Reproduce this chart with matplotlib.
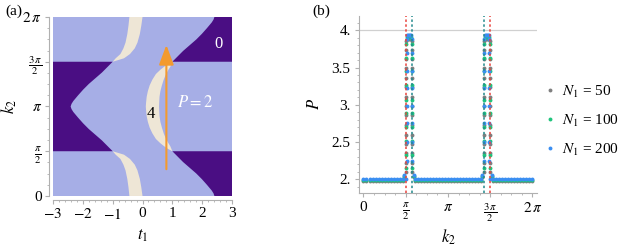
import numpy as np
import matplotlib.pyplot as plt
from matplotlib.ticker import MultipleLocator

plt.rcParams['font.family'] = ['Liberation Serif', 'DejaVu Serif']
plt.rcParams['mathtext.fontset'] = 'stix'
plt.rcParams['font.size'] = 10

PI = np.pi

# ---------------- panel (a): phase boundaries ----------------
# left dark (P = 0) boundary, lower half k2 in [pi/2, pi]; mirrored about k2 = pi
dark_k2 = [1.571, 1.75, 1.95, 2.15, 2.35, 2.55, 2.75, 2.95, 3.05, 3.1416]
dark_t1 = [-1.00, -1.17, -1.36, -1.58, -1.80, -1.99, -2.16, -2.32, -2.38, -2.41]

# crescent (P = 4), k2 in [pi/2, pi]; mirrored about k2 = pi
cres_k2 = [1.571, 1.65, 1.75, 1.85, 2.0, 2.2, 2.4, 2.6, 2.8, 3.0, 3.1416]
cres_outer = [1.00, 0.86, 0.72, 0.60, 0.45, 0.33, 0.24, 0.18, 0.14, 0.12, 0.11]
cres_inner = [1.00, 0.97, 0.93, 0.87, 0.79, 0.71, 0.65, 0.60, 0.57, 0.56, 0.555]

# lower-left band (P = 4), k2 in [0, pi/2]; mirrored about k2 = pi
band_k2 = [0.0, 0.3, 0.6, 0.9, 1.1, 1.3, 1.45, 1.571]
band_left = [-0.44, -0.47, -0.51, -0.57, -0.64, -0.74, -0.90, -1.00]
band_right = [0.00, -0.04, -0.09, -0.17, -0.26, -0.42, -0.62, -1.00]

# ---------------- panel (b): P versus k2 ----------------
grid_k2 = np.linspace(0, 2 * PI, 57)          # regular sampling in k2
base_P = {'50': 1.975, '100': 1.99, '200': 2.0}

# points on the two edges of the left peak (the right peak is its mirror image)
edge_k2 = {'50': (1.58, 1.815), '100': (1.59, 1.805), '200': (1.60, 1.795)}
edge_P = {
    '50': [2.10, 2.22, 2.35, 2.48, 2.60, 2.73, 2.86, 2.98, 3.11, 3.24, 3.36, 3.49, 3.62, 3.74, 3.86],
    '100': [2.15, 2.33, 2.52, 2.70, 2.89, 3.07, 3.26, 3.45, 3.63, 3.82],
    '200': [2.25, 2.50, 2.75, 2.98, 3.22, 3.45, 3.70, 3.88],
}
top_k2 = [1.62, 1.66, 1.70, 1.74, 1.78]
top_P = {'50': 3.88, '100': 3.91, '200': 3.94}
foot_k2 = [1.50, 1.87]
foot_P = {'50': 2.03, '100': 2.04, '200': 2.06}

series = ['50', '100', '200']
colors = {'50': '#7f7f7f', '100': '#1fc47c', '200': '#3a8ef2'}

light, dark, beige = '#a6aee6', '#4a0e83', '#eee6d6'

fig = plt.figure(figsize=(6.23, 2.46), dpi=100)

# ===== (a) =====
ax = fig.add_axes([0.0851, 0.2033, 0.2873, 0.7276])
ax.set_xlim(-3, 3)
ax.set_ylim(0, 2 * PI)
ax.fill([-3, 3, 3, -3], [0, 0, 2 * PI, 2 * PI], color=light, lw=0)

dk = np.array(dark_k2)
dt = np.array(dark_t1)
full_k = np.concatenate([dk, (2 * PI - dk)[::-1]])
full_t = np.concatenate([dt, dt[::-1]])
ax.fill(np.r_[-3, full_t, -3], np.r_[PI / 2, full_k, 3 * PI / 2], color=dark, lw=0)
# right dark regions = point reflection of the left one
ax.fill(np.r_[-dt, 3, 3], np.r_[dk + PI, 2 * PI, 3 * PI / 2], color=dark, lw=0)
ax.fill(np.r_[-dt, 3, 3], np.r_[PI - dk, 0, PI / 2], color=dark, lw=0)

ck = np.array(cres_k2)
co = np.array(cres_outer)
ci = np.array(cres_inner)
ax.fill(np.r_[co, co[::-1], ci, ci[::-1]],
        np.r_[ck, (2 * PI - ck)[::-1], 2 * PI - ck, ck[::-1]], color=beige, lw=0)

bk = np.array(band_k2)
bl = np.array(band_left)
br = np.array(band_right)
ax.fill(np.r_[bl, br[::-1]], np.r_[bk, bk[::-1]], color=beige, lw=0)
ax.fill(np.r_[bl, br[::-1]], np.r_[2 * PI - bk, (2 * PI - bk)[::-1]], color=beige, lw=0)

ax.annotate('', xy=(0.8, 5.3), xytext=(0.8, 0.94),
            arrowprops=dict(arrowstyle='-|>,head_length=1.2,head_width=0.45',
                            color='#f39a2e', lw=1.5, shrinkA=0, shrinkB=0))
ax.text(2.54, 5.33, '0', color='white', fontsize=12, ha='center', va='center')
ax.text(1.76, 3.25, r'$P = 2$', color='white', fontsize=12, ha='center', va='center')
ax.text(0.27, 2.87, '4', color='black', fontsize=12, ha='center', va='center')

ax.set_xticks(range(-3, 4))
ax.set_xticklabels([r'$-3$', r'$-2$', r'$-1$', '0', '1', '2', '3'])
ax.xaxis.set_minor_locator(MultipleLocator(0.2))
ax.set_yticks([0, PI / 2, PI, 3 * PI / 2, 2 * PI])
ax.set_yticklabels(['0', r'$\frac{\pi}{2}$', r'$\pi$', r'$\frac{3\,\pi}{2}$', r'$2\,\pi$'])
ax.yaxis.set_minor_locator(MultipleLocator(PI / 8))
ax.set_xlabel(r'$t_1$', fontsize=12, labelpad=4)
ax.set_ylabel(r'$k_2$', fontsize=12, labelpad=2)
for s in ['top', 'right']:
    ax.spines[s].set_visible(False)
for s in ['left', 'bottom']:
    ax.spines[s].set_position(('outward', 3))
    ax.spines[s].set_color('#b0b0b0')
ax.tick_params(which='both', color='#b0b0b0', labelsize=11, pad=2)
ax.tick_params(which='major', length=3)
ax.tick_params(which='minor', length=1.5)
fig.text(0.008, 0.94, '(a)', fontsize=11)

# ===== (b) =====
bx = fig.add_axes([0.5762, 0.2167, 0.2857, 0.7195])
bx.set_xlim(-0.167, 6.45)
bx.set_ylim(1.82, 4.196)
bx.axhline(4, color='#d0d0d0', lw=0.9, zorder=0)

for n in series:
    lo, hi = edge_k2[n]
    keep = [k for k in grid_k2 if not (lo - 0.02 < k < hi + 0.02 or
                                      2 * PI - hi - 0.02 < k < 2 * PI - lo + 0.02)]
    xs = list(keep)
    ys = [base_P[n]] * len(keep)
    for k in (lo, hi):
        xs += [k] * len(edge_P[n]) + [2 * PI - k] * len(edge_P[n])
        ys += edge_P[n] * 2
    xs += top_k2 + [2 * PI - k for k in top_k2]
    ys += [top_P[n]] * (2 * len(top_k2))
    xs += foot_k2 + [2 * PI - k for k in foot_k2]
    ys += [foot_P[n]] * (2 * len(foot_k2))
    bx.plot(xs, ys, 'o', ms=2.8, mec='none', color=colors[n], label=r'$N_1$ = ' + n)

for k, c in [(PI / 2, '#e8423c'), (3 * PI / 2, '#e8423c'),
             (1.80, '#23898c'), (2 * PI - 1.80, '#23898c')]:
    bx.axvline(k, color=c, lw=1.1, ls=(0, (1.6, 1.6)), zorder=5)

bx.set_xticks([0, PI / 2, PI, 3 * PI / 2, 2 * PI])
bx.set_xticklabels(['0', r'$\frac{\pi}{2}$', r'$\pi$', r'$\frac{3\,\pi}{2}$', r'$2\,\pi$'])
bx.xaxis.set_minor_locator(MultipleLocator(PI / 8))
bx.set_yticks([2, 2.5, 3, 3.5, 4])
bx.set_yticklabels(['2.', '2.5', '3.', '3.5', '4.'])
bx.yaxis.set_minor_locator(MultipleLocator(0.1))
bx.set_xlabel(r'$k_2$', fontsize=12, labelpad=3)
bx.set_ylabel(r'$P$', fontsize=12, labelpad=6)
for s in ['top', 'right']:
    bx.spines[s].set_visible(False)
for s in ['left', 'bottom']:
    bx.spines[s].set_color('#b0b0b0')
bx.tick_params(which='both', color='#b0b0b0', labelsize=11, pad=3)
bx.tick_params(which='major', length=3)
bx.tick_params(which='minor', length=1.5)
fig.text(0.502, 0.94, '(b)', fontsize=11)

bx.legend(loc='center left', bbox_to_anchor=(0.875, 0.51), bbox_transform=fig.transFigure,
          frameon=False, handlelength=0.6, handletextpad=0.5, labelspacing=0.85,
          fontsize=11, borderpad=0, borderaxespad=0)

fig.savefig('out.png', dpi=100)
